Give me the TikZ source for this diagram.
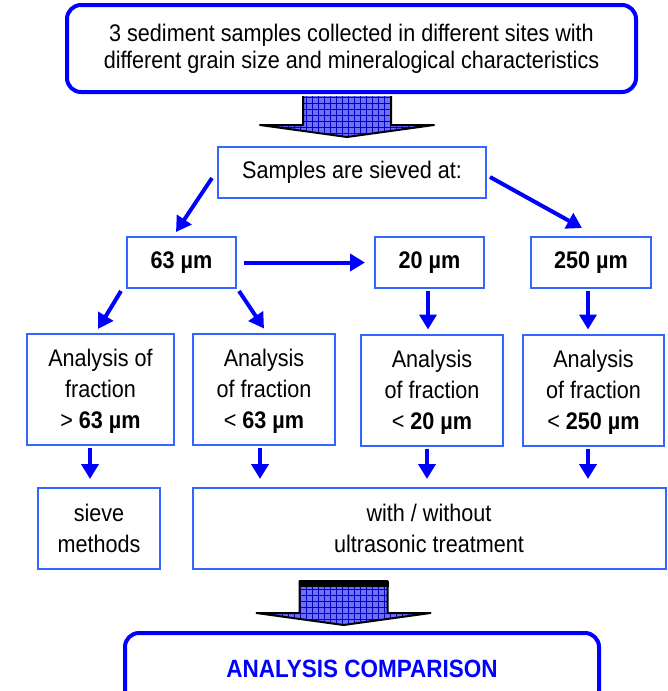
\documentclass[tikz,border=0pt]{standalone}
\usepackage{fontspec}
\setmainfont[FakeStretch=0.9]{Liberation Sans}
\usetikzlibrary{calc,arrows.meta,patterns.meta}
\definecolor{boxblue}{RGB}{51,102,255}
\definecolor{arrfill}{RGB}{112,112,242}

\begin{document}
\begin{tikzpicture}[x=1pt,y=-1pt,
	bx/.style={draw=boxblue,line width=2pt,fill=white,inner sep=0pt,align=center,
		font=\fontsize{24}{31}\selectfont},
	rbx/.style={draw=blue,line width=4pt,rounded corners=14pt,fill=white,inner sep=0pt,
		align=center},
	conn/.style={blue,line width=4pt,-{Triangle[width=17pt,length=15pt]}},
	bigfill/.style={fill=arrfill},
	hpat/.style={pattern={Lines[angle=0,distance=6pt,line width=0.8pt]},pattern color=blue!80!black},
	vpat/.style={pattern={Lines[angle=90,distance=6pt,line width=0.8pt]},pattern color=blue!80!black}]
	\clip (0,0) rectangle (668,691);
	\node[rbx,minimum width=569pt,minimum height=87pt,font=\fontsize{24}{27}\selectfont] (top) at (351.5,48.5)
		{3 sediment samples collected in different sites with\\different grain size and mineralogical characteristics};
	\node[bx,minimum width=268pt,minimum height=51pt] (sieve) at (352,172.5) {Samples are sieved at:};
	\node[bx,minimum width=109pt,minimum height=51pt] (s63) at (181.5,262.5) {\textbf{63 µm}};
	\node[bx,minimum width=109pt,minimum height=51pt] (s20) at (429.5,262.5) {\textbf{20 µm}};
	\node[bx,minimum width=120pt,minimum height=51pt] (s250) at (591,262.5) {\textbf{250 µm}};
	\node[bx,minimum width=147pt,minimum height=111pt,text depth=0pt] (a63g) at (100.5,389) {Analysis of\\fraction\\> \textbf{63 µm}};
	\node[bx,minimum width=142pt,minimum height=111pt,text depth=0pt] (a63l) at (264,389) {Analysis\\of fraction\\< \textbf{63 µm}};
	\node[bx,minimum width=142pt,minimum height=111pt,text depth=0pt] (a20) at (432,390) {Analysis\\of fraction\\< \textbf{20 µm}};
	\node[bx,minimum width=141pt,minimum height=111pt,text depth=0pt] (a250) at (593.5,390) {Analysis\\of fraction\\< \textbf{250 µm}};
	\node[bx,minimum width=122pt,minimum height=81pt] (meth) at (99,528.5) {sieve\\methods};
	\node[bx,minimum width=473pt,minimum height=81pt] (ultra) at (429,528.5) {with / without\\ultrasonic treatment};
	\node[rbx,minimum width=474pt,minimum height=72pt,text=blue,font=\fontsize{25}{30}\selectfont\bfseries] (comp) at (362,669)
		{ANALYSIS COMPARISON};
	\draw[conn] ([xshift=-5pt,yshift=-5.5pt]sieve.west) -- ([xshift=-5.5pt,yshift=4pt]s63.north);
	\draw[conn] ([xshift=3pt,yshift=-4.5pt]sieve.east) -- ([xshift=-9pt,yshift=8pt]s250.north);
	\draw[conn] ([xshift=7pt]s63.east) -- ([xshift=-9pt]s20.west);
	\draw[conn] ([xshift=-60.5pt,yshift=-2pt]s63.south) -- ([xshift=-2.5pt,yshift=3.5pt]a63g.north);
	\draw[conn] ([xshift=57.5pt,yshift=-2pt]s63.south) -- ([yshift=4pt]a63l.north);
	\draw[conn] ([xshift=-1.5pt,yshift=-2pt]s20.south) -- ([xshift=-4pt,yshift=4pt]a20.north);
	\draw[conn] ([xshift=-3pt,yshift=-2pt]s250.south) -- ([xshift=-5.5pt,yshift=4pt]a250.north);
	\draw[conn] ([xshift=-10.5pt,yshift=-2pt]a63g.south) -- ([xshift=-9pt,yshift=8pt]meth.north);
	\draw[conn] ([xshift=-4pt,yshift=-2pt]a63l.south) -- ([xshift=-169pt,yshift=8pt]ultra.north);
	\draw[conn] ([xshift=-5pt,yshift=-2pt]a20.south) -- ([xshift=-2pt,yshift=8pt]ultra.north);
	\draw[conn] ([xshift=-5.5pt,yshift=-2pt]a250.south) -- ([xshift=159pt,yshift=8pt]ultra.north);
	\coordinate (ar1) at ($(top.south)+(-4.5,2)$);
	\foreach \sty in {bigfill,hpat,vpat}
		\path[\sty] ([xshift=-44pt]ar1) -- ++(0,29) -- ++(-43,0) -- ++(87,12) -- ++(87,-12) -- ++(-43,0) -- ++(0,-29) -- cycle;
	\draw[line width=2pt,line join=round] ([xshift=-44pt]ar1) -- ++(0,29) -- ++(-43,0) -- ++(87,12) -- ++(87,-12) -- ++(-43,0) -- ++(0,-29);
	\coordinate (ar2) at ($(comp.north)+(-18.5,-50)$);
	\foreach \sty in {bigfill,hpat,vpat}
		\path[\sty] ([xshift=-44pt]ar2) -- ++(0,32) -- ++(-43,0) -- ++(87,12) -- ++(87,-12) -- ++(-43,0) -- ++(0,-32) -- cycle;
	\draw[line width=2pt,line join=round] ([xshift=-44pt]ar2) -- ++(0,32) -- ++(-43,0) -- ++(87,12) -- ++(87,-12) -- ++(-43,0) -- ++(0,-32) -- cycle;
	\draw[line width=6pt] ([xshift=-45pt,yshift=-3pt]ar2) -- ++(90,0);
\end{tikzpicture}
\end{document}
